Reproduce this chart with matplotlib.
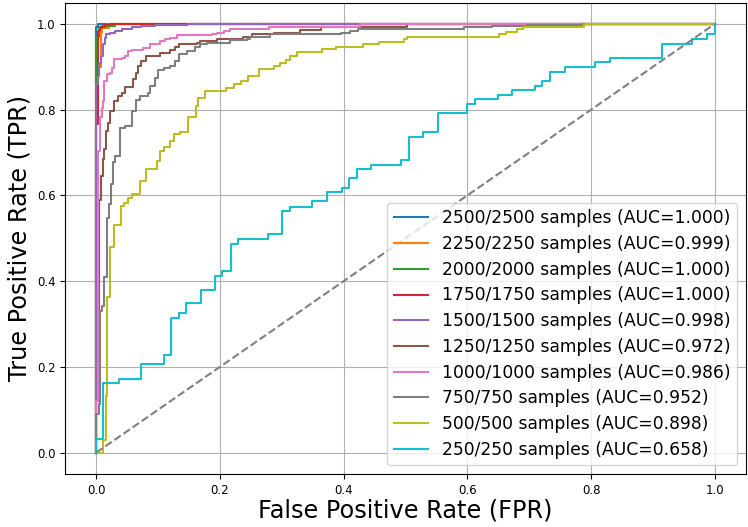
import matplotlib
matplotlib.use("Agg")
import matplotlib.pyplot as plt

# ---- data: ROC corner points (at each fpr the curve rises to the given tpr) ----
fpr_2500 = [0, 0.003, 1.0]
tpr_2500 = [0.992, 1.0, 1.0]

fpr_2250 = [0, 0.007, 0.010, 0.020, 1.0]
tpr_2250 = [0.90, 0.980, 0.990, 1.0, 1.0]

fpr_2000 = [0, 0.005, 0.009, 0.030, 1.0]
tpr_2000 = [0.970, 0.990, 0.995, 1.0, 1.0]

fpr_1750 = [0, 0.003, 0.006, 0.014, 0.022, 1.0]
tpr_1750 = [0.766, 0.984, 0.992, 0.997, 1.0, 1.0]

fpr_1500 = [0, 0.002, 0.005, 0.008, 0.011, 0.014, 0.016, 0.022, 0.030, 0.041,
            0.057, 0.073, 0.095, 0.146, 1.0]
tpr_1500 = [0.860, 0.879, 0.910, 0.925, 0.953, 0.968, 0.976, 0.980, 0.984, 0.988,
            0.992, 0.995, 0.998, 1.0, 1.0]

fpr_1250 = [0, 0.004, 0.007, 0.011, 0.012, 0.016, 0.019, 0.022, 0.028, 0.035,
            0.041, 0.047, 0.059, 0.065, 0.068, 0.073, 0.081, 0.103, 0.119, 0.127,
            0.133, 0.163, 0.168, 0.195, 0.217, 0.238, 0.252, 0.287, 0.330, 0.363,
            0.503, 1.0]
tpr_1250 = [0.12, 0.59, 0.646, 0.685, 0.708, 0.751, 0.770, 0.797, 0.821, 0.832,
            0.840, 0.852, 0.871, 0.886, 0.902, 0.914, 0.925, 0.933, 0.940, 0.946,
            0.953, 0.956, 0.960, 0.964, 0.966, 0.970, 0.976, 0.980, 0.986, 0.993,
            1.0, 1.0]

fpr_1000 = [0, 0.003, 0.006, 0.009, 0.011, 0.013, 0.017, 0.022, 0.025, 0.028,
            0.041, 0.046, 0.052, 0.057, 0.076, 0.087, 0.103, 0.111, 0.119, 0.130,
            0.187, 0.195, 0.206, 0.217, 0.280, 0.427, 1.0]
tpr_1000 = [0.12, 0.704, 0.782, 0.805, 0.821, 0.867, 0.883, 0.886, 0.898, 0.918,
            0.921, 0.925, 0.937, 0.940, 0.944, 0.953, 0.960, 0.964, 0.968, 0.974,
            0.976, 0.980, 0.984, 0.988, 0.993, 1.0, 1.0]

fpr_750 = [0, 0.005, 0.006, 0.010, 0.013, 0.017, 0.021, 0.024, 0.027, 0.030,
           0.038, 0.047, 0.057, 0.064, 0.071, 0.083, 0.087, 0.095, 0.099, 0.109,
           0.119, 0.127, 0.133, 0.146, 0.160, 0.168, 0.179, 0.217, 0.244, 0.249,
           0.281, 0.395, 0.411, 0.424, 0.594, 0.640, 0.697, 0.786, 1.0]
tpr_750 = [0.09, 0.113, 0.331, 0.343, 0.409, 0.548, 0.580, 0.626, 0.677, 0.692,
           0.758, 0.762, 0.797, 0.822, 0.832, 0.840, 0.855, 0.875, 0.892, 0.897,
           0.902, 0.914, 0.931, 0.937, 0.946, 0.953, 0.956, 0.962, 0.964, 0.970,
           0.976, 0.980, 0.984, 0.989, 0.992, 0.995, 0.998, 1.0, 1.0]

fpr_500 = [0, 0.011, 0.015, 0.018, 0.022, 0.028, 0.040, 0.045, 0.052, 0.057,
           0.070, 0.080, 0.098, 0.103, 0.110, 0.119, 0.126, 0.136, 0.149, 0.161,
           0.164, 0.176, 0.209, 0.222, 0.234, 0.246, 0.263, 0.287, 0.297, 0.306,
           0.313, 0.325, 0.365, 0.388, 0.432, 0.457, 0.497, 0.503, 0.651, 0.662,
           0.680, 0.690, 0.788, 1.0]
tpr_500 = [0, 0.03, 0.131, 0.364, 0.479, 0.531, 0.576, 0.583, 0.594, 0.603,
           0.634, 0.661, 0.681, 0.704, 0.712, 0.727, 0.743, 0.749, 0.782, 0.809,
           0.827, 0.844, 0.850, 0.859, 0.867, 0.879, 0.894, 0.902, 0.910, 0.917,
           0.925, 0.935, 0.941, 0.946, 0.953, 0.958, 0.964, 0.970, 0.976, 0.981,
           0.988, 0.993, 1.0, 1.0]

fpr_250 = [0, 0.011, 0.037, 0.072, 0.109, 0.121, 0.133, 0.145, 0.169, 0.192,
           0.204, 0.218, 0.229, 0.277, 0.301, 0.314, 0.349, 0.373, 0.397, 0.409,
           0.422, 0.445, 0.493, 0.505, 0.529, 0.553, 0.600, 0.613, 0.650, 0.673,
           0.709, 0.721, 0.734, 0.758, 0.806, 0.830, 0.914, 0.963, 0.987, 1.0]
tpr_250 = [0.032, 0.162, 0.172, 0.207, 0.228, 0.315, 0.325, 0.348, 0.380, 0.411,
           0.423, 0.487, 0.498, 0.510, 0.563, 0.574, 0.586, 0.607, 0.618, 0.640,
           0.661, 0.672, 0.683, 0.737, 0.748, 0.792, 0.813, 0.824, 0.835, 0.845,
           0.856, 0.867, 0.889, 0.900, 0.911, 0.921, 0.954, 0.964, 0.976, 1.0]

sample_sizes = [2500, 2250, 2000, 1750, 1500, 1250, 1000, 750, 500, 250]
auc_values = [1.000, 0.999, 1.000, 1.000, 0.998, 0.972, 0.986, 0.952, 0.898, 0.658]
curves = [(fpr_2500, tpr_2500), (fpr_2250, tpr_2250), (fpr_2000, tpr_2000),
          (fpr_1750, tpr_1750), (fpr_1500, tpr_1500), (fpr_1250, tpr_1250),
          (fpr_1000, tpr_1000), (fpr_750, tpr_750), (fpr_500, tpr_500),
          (fpr_250, tpr_250)]

fig = plt.figure(figsize=(7.48, 5.27), dpi=100)
ax = fig.add_axes([0.0874, 0.1006, 0.9094, 0.8945])

for (fx, ty), n, auc in zip(curves, sample_sizes, auc_values):
    ax.step([0] + fx, [0] + ty, where='post', lw=1.5,
            label=f"{n}/{n} samples (AUC={auc:.3f})")

ax.plot([0, 1], [0, 1], linestyle='--', color='gray', lw=1.5)

ax.set_xlim(-0.05, 1.05)
ax.set_ylim(-0.05, 1.05)
ax.grid(True)
ax.tick_params(labelsize=8.5)
ax.set_xlabel("False Positive Rate (FPR)", fontsize=17.3, labelpad=1)
ax.set_ylabel("True Positive Rate (TPR)", fontsize=17.3, labelpad=4)
ax.legend(loc='lower right', fontsize=12.3, labelspacing=0.45)

fig.savefig("out.png", dpi=100)
